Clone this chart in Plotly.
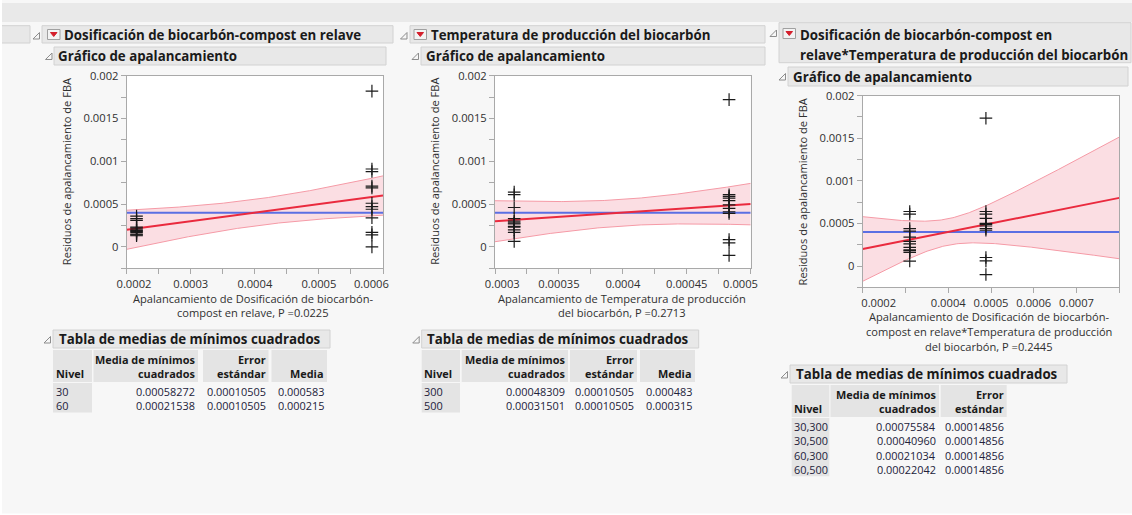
import numpy as np
import plotly.graph_objects as go

W, H = 1132, 515
FONT = "Open Sans"

# ---------------- Least-squares means tables ----------------
DOS_LEVELS = ["30", "60"]
DOS_LSMEAN = [0.00058272, 0.00021538]
DOS_SE = [0.00010505, 0.00010505]
DOS_MEAN = [0.000583, 0.000215]

TEMP_LEVELS = ["300", "500"]
TEMP_LSMEAN = [0.00048309, 0.00031501]
TEMP_SE = [0.00010505, 0.00010505]
TEMP_MEAN = [0.000483, 0.000315]

INT_LEVELS = ["30,300", "30,500", "60,300", "60,500"]
INT_LSMEAN = [0.00075584, 0.00040960, 0.00021034, 0.00022042]
INT_SE = [0.00014856, 0.00014856, 0.00014856, 0.00014856]

P_DOS, P_TEMP, P_INT = "0.0225", "0.2713", "0.2445"
T_CRIT = 2.086      # t(0.975; 20 gl)
N_OBS = 24
N_GROUP = 12

# ---------------- Leverage residuals by group ----------------
DOS30_RES = [0.00182, 0.00091, 0.00088, 0.00071, 0.00069, 0.00051,
             0.00047, 0.00044, 0.00034, 0.00017, 0.00014, 0.0]
DOS60_RES = [0.00036, 0.00033, 0.00031, 0.00023, 0.00022, 0.00020,
             0.00019, 0.00018, 0.00017, 0.00015, 0.00014, 0.00013]

TEMP300_RES = [0.00172, 0.00061, 0.00059, 0.00057, 0.00054, 0.00049,
               0.00045, 0.00041, 0.00039, 0.000085, 0.000047, -0.0001]
TEMP500_RES = [0.00064, 0.00061, 0.00046, 0.00033, 0.00030, 0.00028,
               0.00027, 0.00024, 0.00023, 0.00020, 0.00017, 0.000065]

INT_POS_RES = [0.001736, 0.00064, 0.00061, 0.00056, 0.00050, 0.00049,
               0.00047, 0.00044, 0.00042, 0.0001, 0.00006, -0.0001]
INT_NEG_RES = [0.00064, 0.00061, 0.00044, 0.00041, 0.00034, 0.00029,
               0.00026, 0.00022, 0.00019, 0.00018, 0.00016, 0.000058]

# ---------------- Axis ticks ----------------
Y_TICKS = [-0.00025, 0.0, 0.00025, 0.0005, 0.00075, 0.001, 0.00125, 0.0015, 0.00175, 0.002]
Y_TEXT = ["", "0", "", "0.0005", "", "0.001", "", "0.0015", "", "0.002"]

NB = "\u00a0"
X1_TICKS = [0.0002, 0.00025, 0.0003, 0.00035, 0.0004, 0.00045, 0.0005, 0.00055, 0.0006]
X1_TEXT = [NB * 5 + "0.0002", "", "0.0003", "", "0.0004", "", "0.0005", "", "0.0006" + NB * 8]
X2_TICKS = [0.0003, 0.000325, 0.00035, 0.000375, 0.0004, 0.000425, 0.00045, 0.000475, 0.0005]
X2_TEXT = [NB * 5 + "0.0003", "", "0.00035", "", "0.0004", "", "0.00045", "", "0.0005" + NB * 7]
X3_TICKS = [0.0002, 0.0003, 0.0004, 0.0005, 0.0006, 0.0007, 0.0008]
X3_TEXT = [NB * 11 + "0.0002", "", "0.0004", "0.0005", "0.0006", "0.0007", ""]

grand_mean = float(np.mean(DOS_LSMEAN))
s_resid = DOS_SE[0] * np.sqrt(N_GROUP)
se_mean = s_resid / np.sqrt(N_OBS)

# interaction contrast sets the two leverage positions
int_contrast = (INT_LSMEAN[0] - INT_LSMEAN[1] - INT_LSMEAN[2] + INT_LSMEAN[3]) / 4.0

t_dos = abs(DOS_LSMEAN[0] - DOS_LSMEAN[1]) / (DOS_SE[0] * np.sqrt(2))
t_temp = abs(TEMP_LSMEAN[0] - TEMP_LSMEAN[1]) / (TEMP_SE[0] * np.sqrt(2))
t_int = abs(4 * int_contrast) / (2 * INT_SE[0])

panels = [
    dict(xr=[0.0002, 0.0006], xt=X1_TICKS, xtt=X1_TEXT, dom_x=(126.7, 383.0), dom_y=(75.7, 268.3),
         groups=[(DOS_LSMEAN[0], DOS30_RES), (DOS_LSMEAN[1], DOS60_RES)], tstat=t_dos),
    dict(xr=[0.0003, 0.0005], xt=X2_TICKS, xtt=X2_TEXT, dom_x=(495.0, 750.7), dom_y=(75.7, 268.3),
         groups=[(TEMP_LSMEAN[0], TEMP300_RES), (TEMP_LSMEAN[1], TEMP500_RES)], tstat=t_temp),
    dict(xr=[0.0002, 0.0008], xt=X3_TICKS, xtt=X3_TEXT, dom_x=(862.7, 1119.3), dom_y=(95.7, 287.3),
         groups=[(grand_mean + int_contrast, INT_POS_RES), (grand_mean - int_contrast, INT_NEG_RES)], tstat=t_int),
]

fig = go.Figure()
AX = "#a9a9a9"
TXT = "#303030"

for i, p in enumerate(panels, start=1):
    xa = "x" if i == 1 else f"x{i}"
    ya = "y" if i == 1 else f"y{i}"
    xs = np.linspace(p["xr"][0], p["xr"][1], 200)
    hw = T_CRIT * np.sqrt(se_mean ** 2 + ((xs - grand_mean) / p["tstat"]) ** 2)
    fit = xs  # leverage line has unit slope through the grand mean
    fig.add_trace(go.Scatter(x=xs, y=fit - hw, xaxis=xa, yaxis=ya, mode="lines",
                             line=dict(color="#f59aa6", width=1), hoverinfo="skip", showlegend=False))
    fig.add_trace(go.Scatter(x=xs, y=fit + hw, xaxis=xa, yaxis=ya, mode="lines", fill="tonexty",
                             fillcolor="rgba(248,190,200,0.5)",
                             line=dict(color="#f59aa6", width=1), hoverinfo="skip", showlegend=False))
    fig.add_trace(go.Scatter(x=p["xr"], y=[grand_mean, grand_mean], xaxis=xa, yaxis=ya, mode="lines",
                             line=dict(color="#5b6fe3", width=2), hoverinfo="skip", showlegend=False))
    fig.add_trace(go.Scatter(x=p["xr"], y=p["xr"], xaxis=xa, yaxis=ya, mode="lines",
                             line=dict(color="#ea2a3e", width=2), hoverinfo="skip", showlegend=False))
    for gx, res in p["groups"]:
        fig.add_trace(go.Scatter(x=[gx] * len(res), y=res, xaxis=xa, yaxis=ya, mode="markers",
                                 marker=dict(symbol="cross-thin", size=9, line=dict(color="#1a1a1a", width=1.2)),
                                 showlegend=False))
    common = dict(showline=True, linecolor=AX, linewidth=1, mirror=True, ticks="outside", ticklen=5,
                  tickcolor=AX, showgrid=False, zeroline=False, automargin=False,
                  tickfont=dict(family=FONT, size=11.2, color=TXT))
    fig.layout[("xaxis" if i == 1 else f"xaxis{i}")] = dict(
        common, domain=[p["dom_x"][0] / W, p["dom_x"][1] / W], range=p["xr"], anchor=ya,
        tickmode="array", tickvals=p["xt"], ticktext=p["xtt"])
    fig.layout[("yaxis" if i == 1 else f"yaxis{i}")] = dict(
        common, domain=[1 - p["dom_y"][1] / H, 1 - p["dom_y"][0] / H], range=[-0.00025, 0.002], anchor=xa,
        tickmode="array", tickvals=Y_TICKS, ticktext=Y_TEXT)

shapes = []
annotations = []


def rect(x0, y0, x1, y1, fill, line=None):
    shapes.append(dict(type="rect", xref="paper", yref="paper", x0=x0 / W, x1=x1 / W,
                       y0=1 - y1 / H, y1=1 - y0 / H, fillcolor=fill,
                       line=dict(color=line if line else fill, width=1 if line else 0), layer="below"))


def path(pts, fill=None, line=None):
    d = "M " + " L ".join(f"{x / W:.5f},{1 - y / H:.5f}" for x, y in pts) + " Z"
    shapes.append(dict(type="path", xref="paper", yref="paper", path=d,
                       fillcolor=fill if fill else "rgba(0,0,0,0)",
                       line=dict(color=line if line else "rgba(0,0,0,0)", width=1)))


def text(x, y, s, size=12, bold=False, anchor="left", color="#1a1a1a", angle=0):
    annotations.append(dict(x=x / W, y=1 - y / H, xref="paper", yref="paper",
                            text=f"<b>{s}</b>" if bold else s, showarrow=False,
                            xanchor=anchor, yanchor="middle", textangle=angle,
                            font=dict(family=FONT, size=size, color=color)))


def disclosure(x, y):
    path([(x, y + 6.5), (x + 6.5, y + 6.5), (x + 6.5, y)], line="#8c8c8c")


def red_menu(x, y):
    rect(x, y, x + 12.5, y + 10, "#f3f3f3", "#a0a0a0")
    path([(x + 3, y + 3), (x + 9.5, y + 3), (x + 6.25, y + 7)], fill="#d41f2c", line="#d41f2c")


HDR = "#e8e8e8"
HDR_LINE = "#d2d2d2"
CELL = "#e4e4e4"
HS = 13.3   # outline header size

# window strips
rect(0, 3, W, 22, "#e9e9e9")
rect(0, 25.7, 30, 43, HDR, HDR_LINE)

# ---- panel headers ----
rect(42, 25.7, 393, 43, HDR, HDR_LINE)
disclosure(33, 32.5)
red_menu(47.5, 29.5)
text(62, 35, "Dosificación de biocarbón-compost en relave", HS, True)
rect(54, 47, 386, 65, HDR, HDR_LINE)
disclosure(45.5, 53)
text(56, 56.5, "Gráfico de apalancamiento", HS, True)

rect(410, 25.7, 765, 43, HDR, HDR_LINE)
disclosure(400.5, 32.5)
red_menu(414, 29.5)
text(428.5, 35, "Temperatura de producción del biocarbón", HS, True)
rect(421, 47, 765, 65, HDR, HDR_LINE)
disclosure(412, 53)
text(423.5, 56.5, "Gráfico de apalancamiento", HS, True)

rect(779, 22.7, 1131, 62.7, HDR, HDR_LINE)
disclosure(770, 30)
red_menu(783, 28.5)
text(798, 35, "Dosificación de biocarbón-compost en", HS, True)
text(798, 55, "relave*Temperatura de producción del biocarbón", HS, True)
rect(788, 67, 1128, 86, HDR, HDR_LINE)
disclosure(779, 73.5)
text(791, 76.5, "Gráfico de apalancamiento", HS, True)

# ---- axis titles ----
TS = 11.1
YT = "Residuos de apalancamiento de FBA"
text(66.7, 171.5, YT, TS, anchor="center", color=TXT, angle=-90)
text(434.3, 171.5, YT, TS, anchor="center", color=TXT, angle=-90)
text(802.7, 191.7, YT, TS, anchor="center", color=TXT, angle=-90)

text(253, 298, "Apalancamiento de Dosificación de biocarbón-", TS, anchor="center", color=TXT)
text(253, 312, f"compost en relave, P ={P_DOS}", TS, anchor="center", color=TXT)
text(621.7, 298, "Apalancamiento de Temperatura de producción", TS, anchor="center", color=TXT)
text(621.7, 312, f"del biocarbón, P ={P_TEMP}", TS, anchor="center", color=TXT)
text(989, 316, "Apalancamiento de Dosificación de biocarbón-", TS, anchor="center", color=TXT)
text(989, 331, "compost en relave*Temperatura de producción", TS, anchor="center", color=TXT)
text(989, 346, f"del biocarbón, P ={P_INT}", TS, anchor="center", color=TXT)

CS = 10.9   # table text size


# ---- least-squares means tables ----
def ls_table(x0, ytop, levels, cols, col_cells, hdr_lines):
    rect(x0, ytop, x0 + 277, ytop + 18, HDR, HDR_LINE)
    disclosure(x0 - 9, ytop + 6.5)
    text(x0 + 3.5, ytop + 9.3, "Tabla de medias de mínimos cuadrados", HS, True)
    hy0, hy1 = ytop + 20, ytop + 52
    for cx0, cx1 in col_cells:
        rect(cx0, hy0, cx1, hy1, CELL)
    l1, l2 = ytop + 29, ytop + 43
    text(col_cells[0][0] + 0.5, l2, "Nivel", CS, True)
    for (cx0, cx1), (t1, t2) in zip(col_cells[1:], hdr_lines):
        if t1:
            text(cx1 - 1, l1, t1, CS, True, anchor="right")
        text(cx1 - 1, l2, t2, CS, True, anchor="right")
    ry = hy1 + 2
    rect(col_cells[0][0], hy1 + 1, col_cells[0][1], hy1 + 2 + 14.3 * len(levels), CELL)
    for r, lev in enumerate(levels):
        yc = ry + 7.5 + 14.3 * r
        text(col_cells[0][0] + 0.5, yc, lev, CS, color="#22223a")
        for (cx0, cx1), col in zip(col_cells[1:], cols):
            text(cx1 - 1, yc, col[r], CS, anchor="right", color="#22223a")


ls_table(53, 330, DOS_LEVELS,
         [[f"{v:.8f}" for v in DOS_LSMEAN], [f"{v:.8f}" for v in DOS_SE], [f"{v:.6f}" for v in DOS_MEAN]],
         [(53, 92), (93.5, 198), (203, 268.5), (271.5, 327)],
         [("Media de mínimos", "cuadrados"), ("Error", "estándar"), ("", "Media")])
ls_table(421.7, 330, TEMP_LEVELS,
         [[f"{v:.8f}" for v in TEMP_LSMEAN], [f"{v:.8f}" for v in TEMP_SE], [f"{v:.6f}" for v in TEMP_MEAN]],
         [(421.7, 460), (461.7, 568), (570, 637), (640, 695)],
         [("Media de mínimos", "cuadrados"), ("Error", "estándar"), ("", "Media")])
ls_table(790, 365, INT_LEVELS,
         [[f"{v:.8f}" for v in INT_LSMEAN], [f"{v:.8f}" for v in INT_SE]],
         [(791.7, 829.3), (830.5, 939), (940.7, 1006.7)],
         [("Media de mínimos", "cuadrados"), ("Error", "estándar")])

# outer window edges
rect(0, 513.5, W, H, "#ffffff")
rect(0, 0, 2, H, "#ffffff")

fig.update_layout(
    width=W, height=H, margin=dict(l=0, r=0, t=0, b=0, autoexpand=False),
    paper_bgcolor="#f7f7f7", plot_bgcolor="#ffffff",
    shapes=shapes, annotations=annotations, showlegend=False,
    font=dict(family=FONT, size=12, color=TXT),
)

fig.write_html("out.html")
